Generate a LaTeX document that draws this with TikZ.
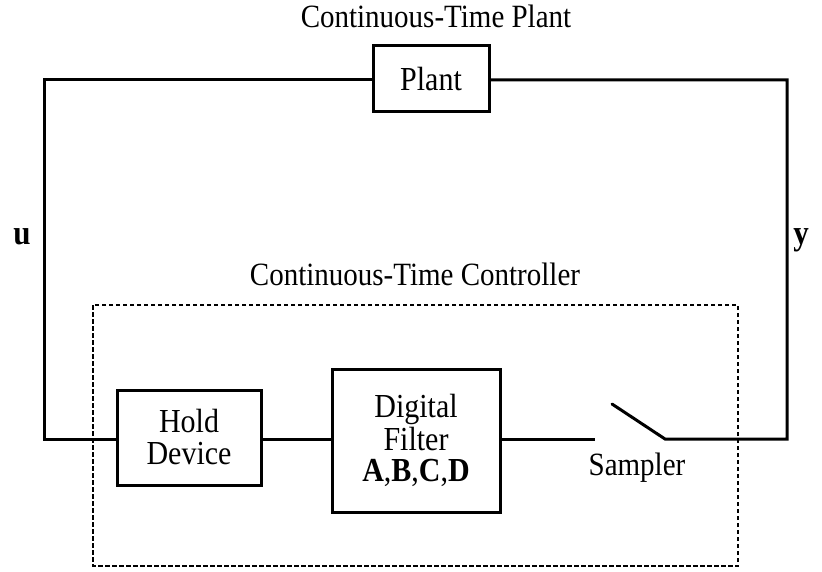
\documentclass[tikz,border=0pt]{standalone}
\usepackage{fontspec}
\setmainfont{Liberation Serif}
\newcommand{\vst}[1]{\scalebox{1}[1.12]{#1}}
\begin{document}
\begin{tikzpicture}[x=1pt,y=-1pt,
  wire/.style={line width=3pt,line cap=rect,line join=miter},
  blk/.style={draw,line width=3pt,inner sep=0pt,align=center,font=\fontsize{30}{30}\selectfont},
  lbl/.style={font=\fontsize{29}{30}\selectfont,anchor=base,inner sep=0pt},
  frame/.style={line width=2.8pt,dash pattern=on 4.5pt off 2.5pt}]
\useasboundingbox (0,0) rectangle (822,572);
% boxes
\node[blk,minimum width=116pt,minimum height=66pt] (plant) at (431,79) {\vst{Plant}};
\node[blk,minimum width=144pt,minimum height=95pt] (hold) at (189,437.5) {\vst{Hold}\\[2pt]\vst{Device}};
\node[blk,minimum width=168pt,minimum height=143pt] (filter) at (416,440.5) {\vst{Digital}\\[1pt]\vst{Filter}\\[1pt]\vst{\textbf{A},\textbf{B},\textbf{C},\textbf{D}}};
% controller frame
\draw[frame] (93,305) rectangle (738,566);
% labels
\node[lbl] (tplant) at (436,28) {\vst{Continuous-Time Plant}};
\node[lbl] (tctrl) at (415,285) {\vst{Continuous-Time Controller}};
\node[lbl] (samp) at (637,475) {\vst{Sampler}};
\node[lbl,font=\fontsize{31}{30}\selectfont\bfseries] (u) at (22,244) {\vst{u}};
\node[lbl,font=\fontsize{31}{30}\selectfont\bfseries] (yl) at (801,244) {\vst{y}};
% coordinates
\coordinate (ul) at (44,80);
\coordinate (dl) at (44,439);
\coordinate (ur) at (787,80);
\coordinate (dr) at (787,439);
\coordinate (swpivot) at (665,439);
\coordinate (swtip) at (612,404);
\coordinate (swin) at (593,439);
% wires
\draw[wire] (plant.west |- ul) -- (ul) -- (dl) -- (hold.west |- dl);
\draw[wire] (hold.east |- dl) -- (filter.west |- dl);
\draw[wire] (filter.east |- swin) -- (swin);
\draw[wire,line cap=round] (plant.east |- ur) -- (ur) -- (dr) -- (swpivot) -- (swtip);
\end{tikzpicture}
\end{document}
